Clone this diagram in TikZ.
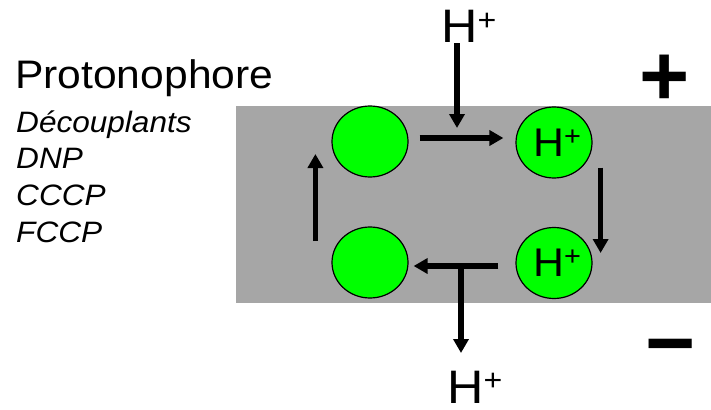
\documentclass[tikz,border=0pt]{standalone}
\usepackage{fontspec}
\setmainfont{Liberation Sans}
\usetikzlibrary{calc,arrows.meta,shapes.geometric}
\definecolor{membrane}{RGB}{166,166,166}
\definecolor{carriergreen}{RGB}{0,255,0}
% H with a raised plus: #1 size of H, #2 size of plus, #3 raise
\newcommand{\hion}[3]{\fontsize{#1}{#1}\selectfont H\raisebox{#3}{\fontsize{#2}{#2}\selectfont +}}

\begin{document}
\begin{tikzpicture}[x=1pt,y=-1pt,
  carrier/.style={ellipse, draw, line width=1.2pt, fill=carriergreen,
    minimum width=76pt, minimum height=71pt, inner sep=0pt},
  flow/.style={line width=5.2pt, -{Triangle[width=15pt,length=14pt]}},
  wide/.style={xscale=1.07, transform shape},
  ion/.style={inner sep=0pt, anchor=base west, wide},
  txt/.style={inner sep=0pt, anchor=base west, wide},
  sign/.style={inner sep=0pt, anchor=base, font=\fontsize{86}{86}\selectfont\bfseries}]
  \useasboundingbox (0,0) rectangle (711,409);

  % membrane
  \fill[membrane] (236,106) rectangle (711,303);

  % left text
  \node[txt, font=\fontsize{39.8}{39.8}\selectfont] (title) at (15,89) {Protonophore};
  \node[txt, font=\fontsize{29.5}{29.5}\selectfont\itshape] (l1) at (16,132) {Découplants};
  \node[txt, font=\fontsize{29.5}{29.5}\selectfont\itshape] (l2) at (16,168.7) {DNP};
  \node[txt, font=\fontsize{29.5}{29.5}\selectfont\itshape] (l3) at (16,205.3) {CCCP};
  \node[txt, font=\fontsize{29.5}{29.5}\selectfont\itshape] (l4) at (16,242) {FCCP};

  % signs
  \node[sign] (pos) at (664.5,105.5) {+};
  \node[sign] (neg) at (670.5,372.5) {−};

  % carrier cycle
  \node[carrier] (c1) at (370,141.5) {};
  \node[carrier] (c2) at (554,142.5) {};
  \node[carrier] (c3) at (554,263) {};
  \node[carrier] (c4) at (370,262.5) {};
  \node[wide, inner sep=0pt] at ([xshift=3pt]c2) {\hion{40}{27}{11pt}};
  \node[wide, inner sep=0pt] at ([xshift=3pt]c3) {\hion{40}{27}{11pt}};

  \draw[flow] ($(c1.east)+(11,-3.5)$) -- ($(c2.west)+(-12,-4.5)$);
  \draw[flow] ($(c2.east)+(8,25)$) -- ($(c3.east)+(8,-10)$);
  \draw[flow] ($(c3.west)+(-17,3)$) -- ($(c4.east)+(5,3.5)$);
  \draw[flow] ($(c4.west)+(-16,-21.5)$) -- ($(c1.west)+(-16,12.5)$);

  % protons in and out
  \node[ion] (hin) at (441,43) {\hion{47}{30}{12pt}};
  \node[ion] (hout) at (447,403) {\hion{47}{30}{13pt}};
  \coordinate (tin) at (457,128);
  \coordinate (tout) at (461,266);
  \draw[flow] (hin.south -| tin) -- (tin);
  \draw[flow] (tout) -- (461,353);
\end{tikzpicture}
\end{document}
